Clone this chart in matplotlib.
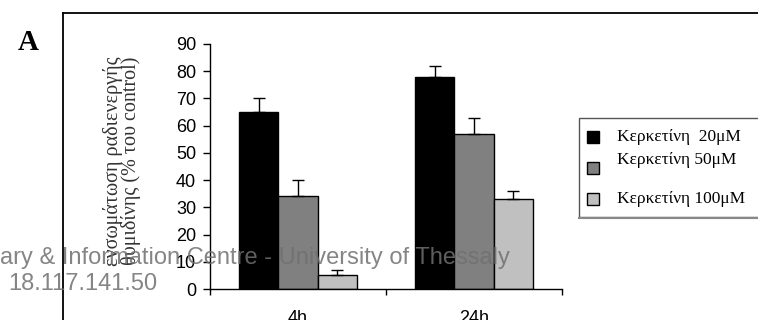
import numpy as np
import matplotlib.pyplot as plt
from matplotlib.patches import Rectangle
from matplotlib.lines import Line2D

# data
times = ['4h', '24h']
series = ['Κερκετίνη  20μM', 'Κερκετίνη 50μM', 'Κερκετίνη 100μM']
values = [[65, 78],
          [34, 57],
          [5, 33]]
errors = [[5, 4],
          [6, 6],
          [2, 3]]
colors = ['#000000', '#808080', '#c0c0c0']

serif = ['Liberation Serif', 'DejaVu Serif']
sans = ['Liberation Sans', 'DejaVu Sans']

fig = plt.figure(figsize=(7.58, 3.2), dpi=100)
ax = fig.add_axes([210/758, 31/320, 352/758, 245/320])

x = np.arange(len(times))
w = 0.222
for i in range(len(series)):
    pos = x + (i - 1) * w
    ax.bar(pos, values[i], w, color=colors[i], edgecolor='black', linewidth=1, zorder=2)
    ax.errorbar(pos, values[i], yerr=[np.zeros(len(times)), errors[i]], fmt='none',
                ecolor='black', elinewidth=1, capsize=4, capthick=1, zorder=3)

ax.set_xlim(-0.5, 1.5)
ax.set_ylim(0, 90)
ax.set_yticks(range(0, 91, 10))
ax.set_xticks([-0.5, 0.5, 1.5])
ax.set_xticklabels([])
ax.set_xticks(x, minor=True)
ax.set_xticklabels(times, minor=True, fontsize=13, family=sans)
ax.tick_params(axis='x', which='minor', length=0, pad=15)
ax.tick_params(axis='x', which='major', length=4, width=1, direction='out')
ax.tick_params(axis='y', length=5, width=1, direction='out', pad=5, labelsize=13)
for lab in ax.get_yticklabels():
    lab.set_family(sans)
for s in ['top', 'right']:
    ax.spines[s].set_visible(False)
for s in ['left', 'bottom']:
    ax.spines[s].set_linewidth(1)

# y label
fig.text(122/758, 1 - 161/320, 'ενσωμάτωση ραδιενεργής\nθυμιδίνης (% του control)',
         rotation=90, ha='center', va='center', multialignment='center',
         fontsize=14.5, family=serif, color='#333333', linespacing=0.9)

# panel letter
fig.text(28/758, 1 - 42/320, 'A', fontsize=21, family=serif, fontweight='bold',
         ha='center', va='center')

# outer frame
fig.add_artist(Line2D([63/758, 63/758], [-0.01, 1 - 12.5/320], color='black', lw=1.3,
                      transform=fig.transFigure))
fig.add_artist(Line2D([63/758, 1.01], [1 - 12.5/320, 1 - 12.5/320], color='black', lw=1.3,
                      transform=fig.transFigure))

# legend
lx0, ly0, ly1 = 579/758, 1 - 217/320, 1 - 118/320
fig.add_artist(Rectangle((lx0, ly0), 1.02 - lx0, ly1 - ly0, facecolor='white',
                         edgecolor='#555555', lw=1, transform=fig.transFigure))
fig.add_artist(Line2D([lx0, 1.01], [ly0 - 1/320, ly0 - 1/320], color='#888888', lw=1.5,
                      transform=fig.transFigure))
mark_y = [137, 168, 199]
text_y = [137, 160, 199]
for i in range(len(series)):
    fig.add_artist(Rectangle((587/758, 1 - (mark_y[i] + 6)/320), 12/758, 12/320,
                             facecolor=colors[i], edgecolor='black', lw=1,
                             transform=fig.transFigure))
    fig.text(617/758, 1 - text_y[i]/320, series[i], fontsize=12.5, family=serif,
             ha='left', va='center')

# watermark
fig.text(0, 1 - 258/320, 'ary & Information Centre - University of Thessaly',
         fontsize=17, family=sans, color='#707070', alpha=0.85, ha='left', va='center')
fig.text(83/758, 1 - 284/320, '18.117.141.50', fontsize=17, family=sans,
         color='#707070', alpha=0.85, ha='center', va='center')

fig.savefig('out.png', dpi=100)
